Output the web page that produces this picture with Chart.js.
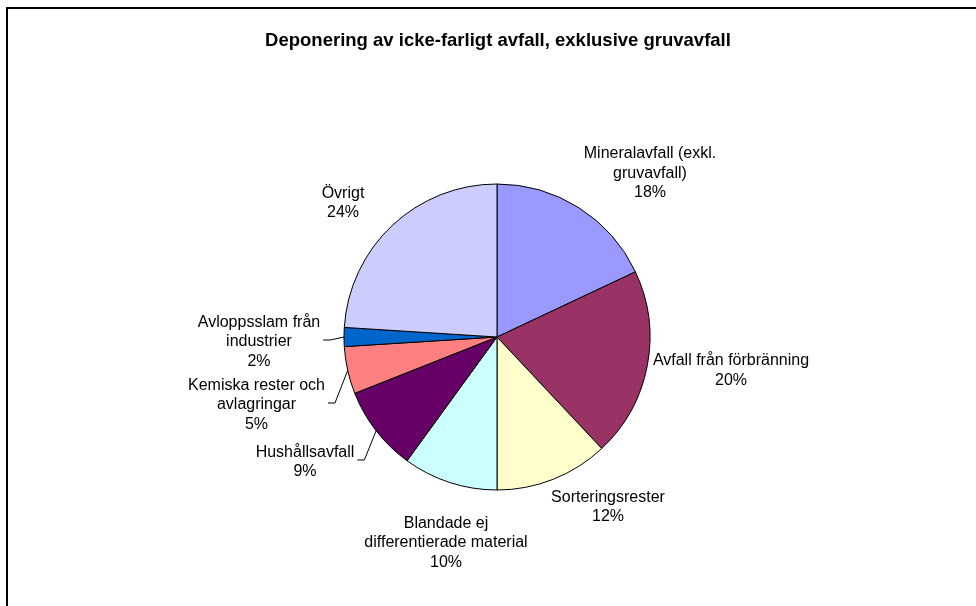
<!DOCTYPE html>
<html>
<head>
<meta charset="utf-8">
<script src="https://cdn.jsdelivr.net/npm/chart.js@4/dist/chart.umd.min.js"></script>
<style>
  html, body { margin: 0; padding: 0; background: #fff; }
  #wrap { position: relative; width: 976px; height: 606px; }
</style>
</head>
<body>
<div id="wrap"><canvas id="chart" width="976" height="606"></canvas></div>
<script>
const title = 'Deponering av icke-farligt avfall, exklusive gruvavfall';
const categories = [
  ['Mineralavfall (exkl.', 'gruvavfall)'],
  ['Avfall från förbränning'],
  ['Sorteringsrester'],
  ['Blandade ej', 'differentierade material'],
  ['Hushållsavfall'],
  ['Kemiska rester och', 'avlagringar'],
  ['Avloppsslam från', 'industrier'],
  ['Övrigt'],
];
const shares = [18, 20, 12, 10, 9, 5, 2, 24];
const colors = ['#9999FF', '#993366', '#FFFFCC', '#CCFFFF', '#660066', '#FF8080', '#0066CC', '#CCCCFF'];

// where each label block sits, relative to the pie centre, and whether it gets a leader line
const labelLayout = [
  { dx: 153, dy: -163.5 },
  { dx: 234, dy: 33.5 },
  { dx: 111, dy: 170 },
  { dx: -51, dy: 206 },
  { dx: -192, dy: 125, leader: true },
  { dx: -240.5, dy: 68, leader: true },
  { dx: -238, dy: 5, leader: true },
  { dx: -154, dy: -134 },
];

const FONT = '"Liberation Sans", Arial, sans-serif';

const pieLabels = {
  id: 'pieLabels',
  afterDraw(chart) {
    const ctx = chart.ctx;
    ctx.save();
    // chart frame
    ctx.fillStyle = '#000';
    ctx.fillRect(6, 7, chart.width - 6, 2);
    ctx.fillRect(6, 7, 2, chart.height - 7);

    ctx.textAlign = 'center';
    ctx.textBaseline = 'middle';
    ctx.font = 'bold 18.5px ' + FONT;
    ctx.fillText(title, 498, 41);

    ctx.font = '16px ' + FONT;
    const lh = 19.5;
    const arcs = chart.getDatasetMeta(0).data;
    arcs.forEach((arc, i) => {
      const lay = labelLayout[i];
      const lines = categories[i].concat([shares[i] + '%']);
      const cx = arc.x + lay.dx;
      const cy = arc.y + lay.dy;
      const top = cy - (lines.length - 1) * lh / 2;
      let maxW = 0;
      lines.forEach((t, k) => {
        ctx.fillText(t, cx, top + k * lh);
        maxW = Math.max(maxW, ctx.measureText(t).width);
      });
      if (lay.leader) {
        const mid = (arc.startAngle + arc.endAngle) / 2;
        const ex = arc.x + Math.cos(mid) * arc.outerRadius;
        const ey = arc.y + Math.sin(mid) * arc.outerRadius;
        const sx = cx + maxW / 2 + 3;
        const sy = cy - 2;
        ctx.strokeStyle = '#000';
        ctx.lineWidth = 1;
        ctx.beginPath();
        ctx.moveTo(sx, sy);
        ctx.lineTo(Math.min(sx + 7, ex), sy);
        ctx.lineTo(ex, ey);
        ctx.stroke();
      }
    });
    ctx.restore();
  }
};

new Chart(document.getElementById('chart'), {
  type: 'pie',
  data: {
    labels: categories.map(c => c.join(' ')),
    datasets: [{
      data: shares,
      backgroundColor: colors,
      borderColor: '#000',
      borderWidth: 1,
    }],
  },
  options: {
    responsive: false,
    animation: false,
    layout: { padding: { left: 200, right: 182, top: 183.5, bottom: 115.5 } },
    plugins: {
      legend: { display: false },
      tooltip: { enabled: false },
      title: { display: false },
    },
  },
  plugins: [pieLabels],
});
</script>
</body>
</html>
